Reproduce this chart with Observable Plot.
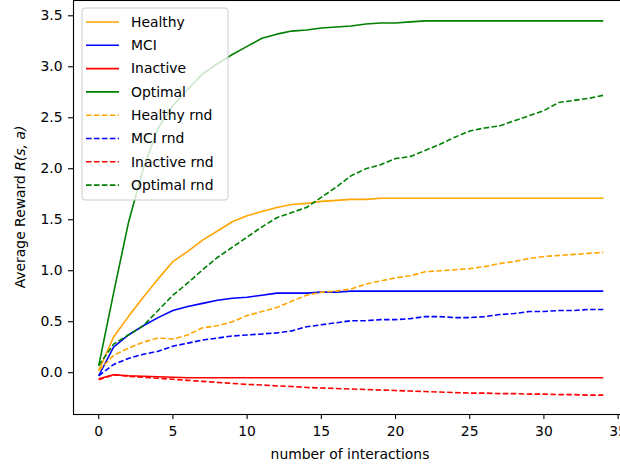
<!DOCTYPE html>
<html>
<head>
<meta charset="utf-8">
<script src="https://cdn.jsdelivr.net/npm/d3@7"></script>
<script src="https://cdn.jsdelivr.net/npm/@observablehq/plot@0.6"></script>
<style>
  html, body { margin: 0; padding: 0; overflow: hidden; background: #fff; }
  #chart { width: 640px; }
  #chart svg { display: block; max-width: none !important; width: 640px !important; height: 467px !important; }
</style>
</head>
<body>
<div id="chart"></div>
<script>
const interactions = [0,1,2,3,4,5,6,7,8,9,10,11,12,13,14,15,16,17,18,19,20,21,22,23,24,25,26,27,28,29,30,31,32,33,34];

const healthy = [0.02,0.35,0.55,0.74,0.92,1.09,1.19,1.30,1.39,1.48,1.54,1.58,1.62,1.65,1.66,1.68,1.69,1.70,1.70,1.71,1.71,1.71,1.71,1.71,1.71,1.71,1.71,1.71,1.71,1.71,1.71,1.71,1.71,1.71,1.71];
const mci = [-0.03,0.25,0.37,0.46,0.54,0.61,0.65,0.68,0.71,0.73,0.74,0.76,0.78,0.78,0.78,0.79,0.79,0.80,0.80,0.80,0.80,0.80,0.80,0.80,0.80,0.80,0.80,0.80,0.80,0.80,0.80,0.80,0.80,0.80,0.80];
const inactive = [-0.06,-0.02,-0.03,-0.035,-0.04,-0.045,-0.05,-0.05,-0.05,-0.05,-0.05,-0.05,-0.05,-0.05,-0.05,-0.05,-0.05,-0.05,-0.05,-0.05,-0.05,-0.05,-0.05,-0.05,-0.05,-0.05,-0.05,-0.05,-0.05,-0.05,-0.05,-0.05,-0.05,-0.05,-0.05];
const optimal = [0.07,0.78,1.47,2.00,2.40,2.62,2.78,2.93,3.03,3.12,3.20,3.28,3.32,3.35,3.36,3.38,3.39,3.40,3.42,3.43,3.43,3.44,3.45,3.45,3.45,3.45,3.45,3.45,3.45,3.45,3.45,3.45,3.45,3.45,3.45];
const healthyRnd = [0.02,0.17,0.24,0.30,0.34,0.33,0.37,0.44,0.46,0.50,0.56,0.60,0.64,0.70,0.76,0.79,0.80,0.82,0.87,0.90,0.93,0.95,0.99,1.00,1.01,1.02,1.04,1.07,1.09,1.12,1.14,1.15,1.16,1.17,1.18];
const mciRnd = [-0.03,0.08,0.14,0.18,0.21,0.26,0.29,0.32,0.34,0.36,0.37,0.38,0.39,0.41,0.45,0.47,0.49,0.51,0.51,0.52,0.52,0.53,0.55,0.55,0.54,0.54,0.55,0.57,0.58,0.60,0.60,0.61,0.61,0.62,0.62];
const inactiveRnd = [-0.07,-0.02,-0.035,-0.045,-0.055,-0.065,-0.075,-0.085,-0.095,-0.105,-0.115,-0.12,-0.13,-0.135,-0.145,-0.15,-0.155,-0.16,-0.165,-0.17,-0.175,-0.18,-0.185,-0.19,-0.195,-0.2,-0.2,-0.205,-0.205,-0.21,-0.21,-0.215,-0.215,-0.22,-0.22];
const optimalRnd = [0.07,0.28,0.37,0.46,0.61,0.76,0.88,1.01,1.13,1.23,1.33,1.43,1.52,1.57,1.62,1.72,1.82,1.93,2.00,2.04,2.10,2.12,2.18,2.24,2.31,2.37,2.40,2.42,2.47,2.52,2.57,2.65,2.67,2.69,2.72];

const seriesNames = ["Healthy","MCI","Inactive","Optimal","Healthy rnd","MCI rnd","Inactive rnd","Optimal rnd"];
const seriesValues = [healthy, mci, inactive, optimal, healthyRnd, mciRnd, inactiveRnd, optimalRnd];
const seriesColors = ["orange","blue","red","green","orange","blue","red","green"];
const seriesDashed = [false,false,false,false,true,true,true,true];

const xTicks = [0,5,10,15,20,25,30,35];
const yTicks = [0,0.5,1,1.5,2,2.5,3,3.5];

const xLabel = "number of interactions";
const yLabelPlain = "Average Reward ";
const yLabelMath = "R(s, a)";

const FONT = "DejaVu Sans, sans-serif";
const FS = 13.9;
const DASH = "5.55,2.4";

const lineMarks = seriesNames.map((name, i) =>
  Plot.line(interactions.map((x, j) => ({x, y: seriesValues[i][j]})), {
    x: "x", y: "y",
    stroke: seriesColors[i],
    strokeWidth: 1.6,
    strokeDasharray: seriesDashed[i] ? DASH : null,
    strokeLinejoin: "round",
    strokeLinecap: "butt"
  })
);

const chart = Plot.plot({
  width: 640,
  height: 467,
  marginLeft: 73,
  marginRight: 12,
  marginTop: 0,
  marginBottom: 53,
  style: {fontFamily: FONT, fontSize: FS + "px", color: "#000", background: "#fff", overflow: "visible", maxWidth: "none"},
  x: {domain: [-1.7, 35.7]},
  y: {domain: [-0.41, 3.65]},
  marks: [
    Plot.axisX({ticks: xTicks, tickSize: 5, tickPadding: 7, tickFormat: d3.format("d"), label: null, fontSize: FS, strokeWidth: 1.1}),
    Plot.axisY({ticks: yTicks, tickSize: 5, tickPadding: 6, tickFormat: d3.format(".1f"), label: null, fontSize: FS, strokeWidth: 1.1}),
    ...lineMarks,
    Plot.frame({stroke: "#000", strokeWidth: 1.1})
  ]
});

document.getElementById("chart").appendChild(chart);

const svg = d3.select(chart);

// Legend
const leg = svg.append("g").attr("font-family", FONT).attr("font-size", FS).attr("text-anchor", "start");
leg.append("rect")
  .attr("x", 82).attr("y", 8).attr("width", 146).attr("height", 192)
  .attr("rx", 3).attr("fill", "#fff").attr("fill-opacity", 0.8)
  .attr("stroke", "#cccccc").attr("stroke-width", 1);
seriesNames.forEach((name, i) => {
  const yy = 22 + i * 23.3;
  leg.append("line")
    .attr("x1", 86).attr("x2", 119).attr("y1", yy).attr("y2", yy)
    .attr("stroke", seriesColors[i]).attr("stroke-width", 1.6)
    .attr("stroke-dasharray", seriesDashed[i] ? DASH : null);
  leg.append("text")
    .attr("x", 131).attr("y", yy).attr("dy", "0.35em")
    .attr("text-anchor", "start")
    .attr("fill", "#000").text(name);
});

// Axis labels
svg.append("text")
  .attr("x", 350).attr("y", 454).attr("dy", "0.35em")
  .attr("text-anchor", "middle").attr("font-family", FONT).attr("font-size", FS)
  .attr("fill", "#000").text(xLabel);

const yl = svg.append("text")
  .attr("transform", "translate(20,207) rotate(-90)")
  .attr("dy", "0.35em")
  .attr("text-anchor", "middle").attr("font-family", FONT).attr("font-size", FS)
  .attr("fill", "#000");
yl.append("tspan").text(yLabelPlain);
yl.append("tspan").attr("font-style", "italic").text(yLabelMath);
</script>
</body>
</html>
